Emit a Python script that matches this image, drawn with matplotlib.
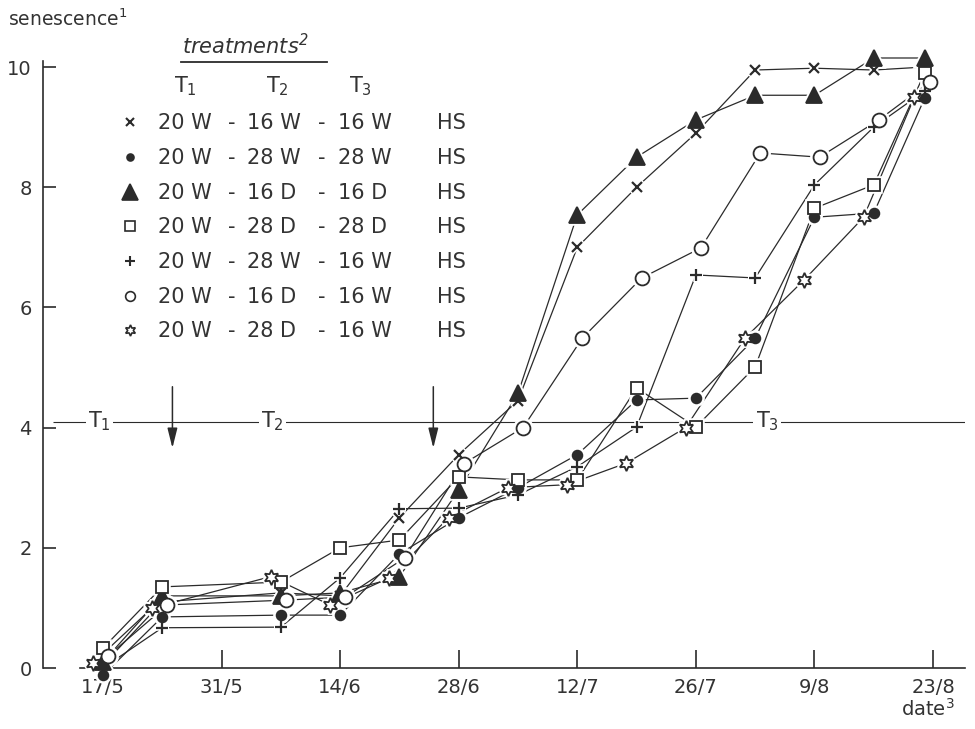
"""Senescence of seven temperature/light treatments over the season."""
import matplotlib
matplotlib.use("Agg")
import matplotlib.pyplot as plt
from matplotlib.lines import Line2D

# sampling dates as days after 17/5
days = [0, 7, 21, 28, 35, 42, 49, 56, 63, 70, 77, 84, 91, 97]
tick_days = [0, 14, 28, 42, 56, 70, 84, 98]
tick_labels = ["17/5", "31/5", "14/6", "28/6", "12/7", "26/7", "9/8", "23/8"]

sen_x = [0.05, 1.1, 1.25, 1.2, 2.5, 3.55, 4.45, 7.0, 8.0, 8.9, 9.95, 9.98, 9.95, 10.0]
sen_dot = [-0.12, 0.85, 0.88, 0.88, 1.9, 2.5, 3.0, 3.55, 4.46, 4.49, 5.49, 7.5, 7.57, 9.48]
sen_tri = [0.1, 1.2, 1.2, 1.25, 1.52, 2.96, 4.57, 7.54, 8.5, 9.12, 9.53, 9.53, 10.15, 10.15]
sen_sq = [0.33, 1.35, 1.43, 2.0, 2.13, 3.18, 3.13, 3.13, 4.66, 4.01, 5.01, 7.65, 8.04, 9.9]
sen_plus = [0.0, 0.67, 0.68, 1.5, 2.65, 2.66, 2.88, 3.35, 4.01, 6.54, 6.49, 8.04, 9.0, 9.6]
sen_circ = [0.2, 1.05, 1.13, 1.18, 1.83, 3.4, 4.0, 5.49, 6.49, 6.99, 8.57, 8.5, 9.12, 9.75]
sen_star = [0.08, 1.0, 1.52, 1.05, 1.5, 2.5, 3.0, 3.05, 3.41, 4.0, 5.49, 6.46, 7.5, 9.5]

t1 = ["20 W"] * 7
t2 = ["16 W", "28 W", "16 D", "28 D", "28 W", "16 D", "28 D"]
t3 = ["16 W", "28 W", "16 D", "28 D", "16 W", "16 W", "16 W"]
series = [sen_x, sen_dot, sen_tri, sen_sq, sen_plus, sen_circ, sen_star]

INK = "#2b2b2b"
TXT = "#333333"
# marker, size, filled, x-offset (days), legend size
styles = [
    ("x", 7.5, True, 0.0, 6),
    ("o", 7, True, 0.0, 5),
    ("^", 11, True, 0.0, 12),
    ("s", 8, False, 0.0, 6.5),
    ("+", 9, True, 0.0, 7),
    ("o", 10, False, 0.6, 7),
    ((6, 1, 0), 11, False, -1.2, 8),
]

plt.rcParams["font.family"] = "DejaVu Sans"
plt.rcParams["mathtext.fontset"] = "dejavusans"

W, H = 975, 729
fig = plt.figure(figsize=(W / 100, H / 100), dpi=100)
ax = fig.add_axes([43 / W, 61 / H, 922 / W, 607 / H])
ax.set_xlim(-7.08, 101.77)
ax.set_ylim(0, 10.1)

for vals, (mk, ms, filled, dx, _) in zip(series, styles):
    xs = [d + dx for d in days]
    ax.plot(xs, vals, "-", color=INK, lw=0.9, zorder=2, clip_on=False)
    # white halo so lines stop short of the markers
    ax.plot(xs, vals, ls="none", marker=mk, ms=ms + 1, mfc="white", mec="white",
            mew=4, zorder=3, clip_on=False)
    ax.plot(xs, vals, ls="none", marker=mk, ms=ms,
            mfc=INK if filled else "white", mec=INK,
            mew=1.6 if mk in ("x", "+") else 1.3, zorder=4, clip_on=False)

# treatment periods
ax.hlines(4.1, -5.9, 101.77, color=INK, lw=0.8, zorder=1)
for lab, xd in [("T$_1$", -0.4), ("T$_2$", 20.0), ("T$_3$", 78.4)]:
    ax.text(xd, 4.1, lab, ha="center", va="center", fontsize=15, color=TXT,
            bbox=dict(fc="white", ec="none", pad=1.5), zorder=1.5)
for xd in [8.2, 39.0]:
    ax.annotate("", xy=(xd, 3.66), xytext=(xd, 4.68),
                arrowprops=dict(arrowstyle="-|>,head_length=1.2,head_width=0.3",
                                color=INK, lw=1.1, mutation_scale=10,
                                shrinkA=0, shrinkB=0))

# axes styling
for s in ["top", "right"]:
    ax.spines[s].set_visible(False)
ax.spines["left"].set_bounds(0, 10.1)
ax.spines["bottom"].set_bounds(-2.7, 101.77)
for s in ["left", "bottom"]:
    ax.spines[s].set_color(INK)
    ax.spines[s].set_linewidth(1.2)
ax.set_yticks([0, 2, 4, 6, 8, 10])
ax.set_xticks(tick_days)
ax.set_xticklabels(tick_labels)
ax.tick_params(axis="y", direction="in", length=9, width=1.2, pad=8,
               labelsize=14, colors=INK, labelcolor=TXT)
ax.tick_params(axis="x", direction="in", length=13, width=1.2, pad=7,
               labelsize=14, colors=INK, labelcolor=TXT)

def fx(x):
    return x / W

def fy(y):
    return 1 - y / H

fig.text(fx(8), fy(26), "senescence$^{\\mathregular{1}}$", fontsize=13.5, color=TXT,
         va="baseline")
fig.text(fx(928), fy(716), "date$^{\\mathregular{3}}$", fontsize=14, color=TXT,
         ha="center", va="baseline")

# legend block
fig.text(fx(182), fy(54), "treatments$^{\\mathregular{2}}$", fontsize=15,
         style="italic", color=TXT, va="baseline")
fig.add_artist(Line2D([fx(181), fx(327)], [fy(62), fy(62)], color=INK, lw=1.3))
for lab, xc in [("T$_1$", 185), ("T$_2$", 277), ("T$_3$", 360)]:
    fig.text(fx(xc), fy(92), lab, fontsize=15, color=TXT, ha="center",
             va="baseline")

rows_y = [122, 157, 192, 226, 261, 296, 330]
for i, (mk, ms, filled, dx, lms) in enumerate(styles):
    yy = rows_y[i]
    fig.add_artist(Line2D([fx(130)], [fy(yy)], marker=mk, ms=lms, ls="none",
                          mfc=INK if filled else "white", mec=INK,
                          mew=1.5 if mk in ("x", "+") else 1.2))
    base = fy(yy + 7)
    fig.text(fx(158), base, t1[i], fontsize=15, color=TXT, va="baseline")
    fig.text(fx(228), base, "-", fontsize=15, color=TXT, va="baseline")
    fig.text(fx(247), base, t2[i], fontsize=15, color=TXT, va="baseline")
    fig.text(fx(318), base, "-", fontsize=15, color=TXT, va="baseline")
    fig.text(fx(338), base, t3[i], fontsize=15, color=TXT, va="baseline")
    fig.text(fx(437), base, "HS", fontsize=15, color=TXT, va="baseline")

fig.savefig("out.png", dpi=100)
